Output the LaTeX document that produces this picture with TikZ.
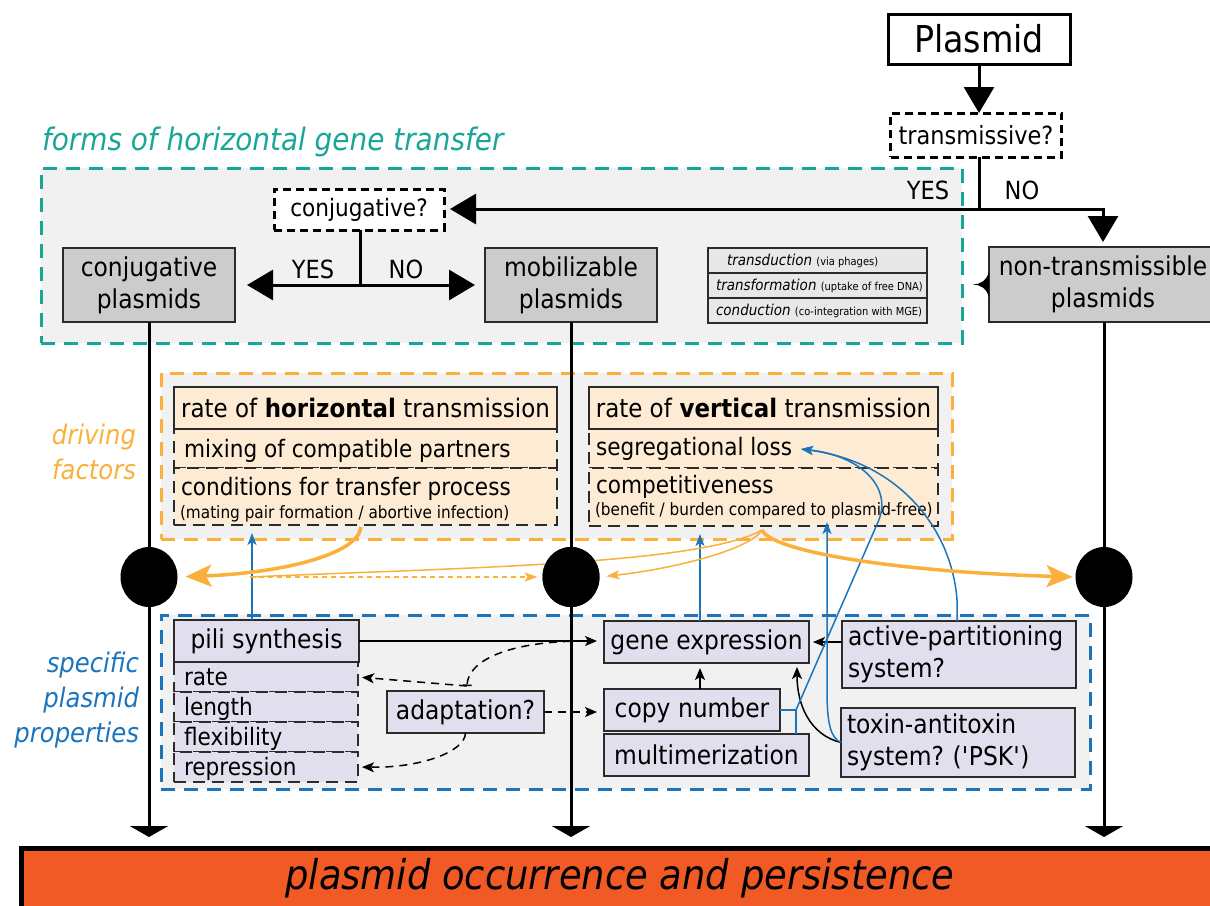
\documentclass[tikz,border=0pt]{standalone}
\usepackage{fontspec}
\setmainfont{DejaVu Sans}[FakeStretch=0.9]
\usetikzlibrary{arrows.meta,shapes.geometric,calc}
\definecolor{tealc}{HTML}{18A697}
\definecolor{orng}{HTML}{FBB03B}
\definecolor{blu}{HTML}{1C75BC}
\definecolor{bgray}{HTML}{F1F1F1}
\definecolor{peach}{HTML}{FDEBD3}
\definecolor{lav}{HTML}{E1DFEE}
\definecolor{boxgray}{HTML}{CCCCCC}
\definecolor{tabgray}{HTML}{E8E8E8}
\definecolor{redor}{HTML}{F15A24}
\definecolor{dk}{HTML}{2B2B2B}
\newcommand{\fsz}[2]{\fontsize{#1}{#2}\selectfont}
\frenchspacing
\tikzset{
  every node/.style={inner sep=0pt, outer sep=0pt},
  box/.style={draw=dk, line width=2pt, align=center},
  graybox/.style={box, fill=boxgray, font=\fsz{26}{32}},
  lavbox/.style={box, fill=lav, font=\fsz{26}{32}},
  cell/.style={draw=dk, line width=1.5pt, dash pattern=on 12pt off 7pt},
  qbox/.style={draw=black, line width=3pt, dash pattern=on 8pt off 5pt, fill=white},
  area/.style={line width=3pt, dash pattern=on 14pt off 9pt, fill=bgray},
  lbl/.style={anchor=base west},
  thickln/.style={line width=3pt},
  bigtip/.style={-{Triangle[width=30pt,length=26pt]}},
  endtip/.style={-{Triangle[width=38pt,length=11pt]}},
  smallarr/.style={line width=1.5pt, -{Stealth[length=12pt,width=10pt,inset=3pt]}},
  dasharr/.style={line width=1.5pt, dash pattern=on 8pt off 6pt},
  bluarr/.style={blu, line width=1.5pt, -{Stealth[length=12pt,width=9pt,inset=3pt]}},
  orthick/.style={orng, line width=3.5pt, -{Stealth[length=26pt,width=22pt,inset=6pt]}},
  orthin/.style={orng, line width=1.5pt},
  orthintip/.style={orthin, -{Stealth[length=13pt,width=9pt,inset=3pt]}},
}
\begin{document}
\begin{tikzpicture}[x=1pt,y=-1pt]
\useasboundingbox (0,0) rectangle (1210,905);

% ---------- background areas ----------
\node[area, draw=tealc, minimum width=921, minimum height=175] (hgtarea) at (501.5,255.5) {};
\node[area, draw=orng, minimum width=791, minimum height=166] (drvarea) at (556.5,456) {};
\node[area, draw=blu, minimum width=929, minimum height=174] (proparea) at (625.5,702) {};

\node[lbl, text=tealc, font=\fsz{31}{36}\itshape] (hgttitle) at (42,150) {forms of horizontal gene transfer};
\node[anchor=east, align=right, text=orng, font=\fsz{27}{35}\itshape] (drvtitle) at (136,452) {driving\\factors};
\node[anchor=east, align=right, text=blu, font=\fsz{27}{35}\itshape] (proptitle) at (139,700) {specific\\plasmid\\properties};

% ---------- top decision nodes ----------
\node[draw=black, line width=3pt, fill=white, minimum width=182, minimum height=50, font=\fsz{37}{42}] (plasmid) at (979,39) {Plasmid};
\node[qbox, minimum width=171, minimum height=44, font=\fsz{25}{30}] (trans) at (976,135) {transmissive?};
\node[qbox, minimum width=170, minimum height=41, font=\fsz{24}{30}] (conjq) at (359,209.5) {conjugative?};

\node[graybox, minimum width=172, minimum height=74] (conjP) at (149,285) {conjugative\\plasmids};
\node[graybox, minimum width=172, minimum height=74] (mobP) at (571,285) {mobilizable\\plasmids};
\node[graybox, minimum width=228, minimum height=75] (nonP) at (1103,284.5) {non-transmissible\\plasmids};

% table of other HGT forms
\node[draw=dk, line width=1.5pt, fill=tabgray, minimum width=219, minimum height=25] (tab1) at (817.5,260.5) {};
\node[draw=dk, line width=1.5pt, fill=tabgray, minimum width=219, minimum height=25] (tab2) at (817.5,285.5) {};
\node[draw=dk, line width=1.5pt, fill=tabgray, minimum width=219, minimum height=25] (tab3) at (817.5,310.5) {};
\node[anchor=west] (tab1t) at (727,260.5) {\fsz{15}{18}\itshape transduction \fsz{11}{13}\upshape(via phages)};
\node[anchor=west] (tab2t) at (716,285.5) {\fsz{15}{18}\itshape transformation \fsz{11}{13}\upshape(uptake of free DNA)};
\node[anchor=west] (tab3t) at (716,310.5) {\fsz{15}{18}\itshape conduction \fsz{11}{13}\upshape(co-integration with MGE)};

% ---------- top connectors ----------
\coordinate (j1) at (979,209);
\coordinate (j1r) at (1103,209);
\coordinate (j2) at (360,285);
\draw[thickln, bigtip] (plasmid.south) -- (plasmid.south |- trans.north);
\draw[thickln] (trans.south -| j1) -- (j1);
\draw[thickln, bigtip, shorten >=6pt] (j1) -- (conjq.east |- j1);
\draw[thickln, bigtip, shorten >=5pt] (j1) -- (j1r) -- (nonP.north);
\draw[thickln] (conjq.south -| j2) -- (j2);
\draw[thickln, bigtip, shorten >=12pt] (j2) -- (conjP.east);
\draw[thickln, bigtip, shorten >=10pt] (j2) -- (mobP.west);
\node[font=\fsz{25}{30}] (yes1) at (928,190) {YES};
\node[font=\fsz{25}{30}] (no1) at (1022,190) {NO};
\node[font=\fsz{25}{30}] (yes2) at (313,269) {YES};
\node[font=\fsz{25}{30}] (no2) at (406,269) {NO};
% brace-like tip on non-transmissible box
\fill[black] ($(nonP.west)+(0,-13)$) .. controls +(-2,9) and +(7,0) .. ($(nonP.west)+(-16,0)$) .. controls +(7,0) and +(-2,-9) .. ($(nonP.west)+(0,13)$) -- cycle;

% ---------- driving factors ----------
\node[cell, fill=peach, minimum width=383, minimum height=39] (mixH) at (365.5,448.5) {};
\node[cell, fill=peach, minimum width=383, minimum height=57] (condH) at (365.5,496.5) {};
\node[box, fill=peach, minimum width=383, minimum height=42, font=\fsz{25.5}{30}] (rateH) at (365.5,408) {rate of \textbf{horizontal} transmission};
\node[lbl, font=\fsz{24}{30}] (mixT) at (184,457) {mixing of compatible partners};
\node[lbl, font=\fsz{24}{30}] (condT) at (181,495) {conditions for transfer process};
\node[lbl, font=\fsz{17}{20}] (condS) at (180,518) {(mating pair formation / abortive infection)};

\node[cell, fill=peach, minimum width=349, minimum height=39] (segV) at (763.5,448.5) {};
\node[cell, fill=peach, minimum width=349, minimum height=58] (compV) at (763.5,497) {};
\node[box, fill=peach, minimum width=349, minimum height=42, font=\fsz{25.5}{30}] (rateV) at (763.5,408) {rate of \textbf{vertical} transmission};
\node[lbl, font=\fsz{24}{30}] (segT) at (596,455) {segregational loss};
\node[lbl, font=\fsz{24}{30}] (compT) at (596,493) {competitiveness};
\node[lbl, font=\fsz{17}{20}] (compS) at (595,515) {(benefit / burden compared to plasmid-free)};

% ---------- specific plasmid properties ----------
\node[cell, fill=lav, minimum width=184, minimum height=30] (rateC) at (266,677) {};
\node[cell, fill=lav, minimum width=184, minimum height=30] (lenC) at (266,707) {};
\node[cell, fill=lav, minimum width=184, minimum height=30] (flexC) at (266,737) {};
\node[cell, fill=lav, minimum width=184, minimum height=30] (repC) at (266,767) {};
\node[lbl, font=\fsz{24}{30}] (rateCT) at (184,685) {rate};
\node[lbl, font=\fsz{24}{30}] (lenCT) at (184,715) {length};
\node[lbl, font=\fsz{24}{30}] (flexCT) at (184,745) {flexibility};
\node[lbl, font=\fsz{24}{30}] (repCT) at (184,775) {repression};
\node[lavbox, minimum width=185, minimum height=42] (pili) at (266.5,641) {pili synthesis};
\node[lavbox, minimum width=157, minimum height=42] (adapt) at (465.5,712) {adaptation?};
\node[lavbox, minimum width=205, minimum height=42] (gene) at (706.5,642) {gene expression};
\node[lavbox, minimum width=176, minimum height=42] (copyn) at (692,710) {copy number};
\node[lavbox, minimum width=205, minimum height=42] (multi) at (706.5,755) {multimerization};
\node[lavbox, align=left, text width=222, inner xsep=6pt, minimum height=67] (activ) at (959,654.5) {active-partitioning\\system?};
\node[lavbox, align=left, text width=222, inner xsep=6pt, minimum height=69] (toxin) at (958,742.5) {toxin-antitoxin\\system? (\textquotesingle PSK\textquotesingle)};

% black connectors inside properties
\draw[smallarr, shorten >=7pt] (pili.east) -- (pili.east -| gene.west);
\draw[dasharr, -{Stealth[length=12pt,width=10pt,inset=3pt]}, shorten >=7pt] (adapt.east) -- (adapt.east -| copyn.west);
\coordinate (ad0) at (585,641);
\coordinate (ad1) at (467,686);
\draw[dasharr, -{Bar[width=9pt]}] (ad0) .. controls (510,641) and (468,660) .. (ad1);
\draw[dasharr, -{Stealth[length=12pt,width=10pt,inset=3pt]}, shorten >=4pt] (ad1) -- (rateC.east);
\draw[dasharr, -{Stealth[length=12pt,width=10pt,inset=3pt]}, shorten >=4pt] (adapt.south) .. controls (465,752) and (420,768) .. (repC.east);
\draw[smallarr, shorten >=5pt] (copyn.north -| 700,0) -- (gene.south -| 700,0);
\draw[smallarr, shorten >=4pt] (activ.west |- gene.east) -- (gene.east);
\coordinate (tt) at (797,667);
\draw[smallarr] (toxin.west) .. controls (810,735) and (797,705) .. (tt);

% ---------- blue influences ----------
\coordinate (bx1) at (252,533);
\coordinate (bx2) at (700,534);
\coordinate (bx3) at (827,522);
\coordinate (jb) at (796,710);
\coordinate (segtip) at (801,449);
\coordinate (apx) at (957,600);
\draw[bluarr] (pili.north -| bx1) -- (bx1);
\draw[bluarr] (gene.north -| bx2) -- (bx2);
\draw[blu, line width=1.5pt] (copyn.east) -- (jb);
\draw[blu, line width=1.5pt] (multi.north -| jb) -- (jb);
\draw[bluarr] (jb) -- (878,522) .. controls (893,488) and (862,456) .. (segtip);
\draw[bluarr] (activ.north -| apx) -- (apx) .. controls (952,530) and (900,462) .. (segtip);
\draw[bluarr] (toxin.west) .. controls (831,738) and (827,725) .. (827,690) -- (bx3);

% ---------- main vertical lines ----------
\coordinate (e1) at (149,837);
\coordinate (e2) at (571,837);
\coordinate (e3) at (1104,837);
\draw[thickln, endtip] (conjP.south) -- (e1);
\draw[thickln, endtip] (mobP.south) -- (e2);
\draw[thickln, endtip] (nonP.south -| e3) -- (e3);

% ---------- orange influences ----------
\coordinate (oh) at (361,527);
\coordinate (ov) at (762,530);
\coordinate (om) at (250,577);
\node[ellipse, fill=black, minimum width=57, minimum height=60] (c1) at (149,577) {};
\node[ellipse, fill=black, minimum width=57, minimum height=60] (c2) at (571,577) {};
\node[ellipse, fill=black, minimum width=57, minimum height=60] (c3) at (1104,577) {};
\draw[orthin] (ov) .. controls (700,565) and (450,568) .. (om);
\draw[orthin, dash pattern=on 5pt off 4pt, -{Stealth[length=13pt,width=9pt,inset=3pt]}, shorten >=5pt] (om) -- (c2.west);
\draw[orthintip, shorten >=7pt] (ov) .. controls (752,548) and (680,568) .. (c2.east);
\draw[orthick, shorten >=8pt] (oh) .. controls (358,555) and (280,573) .. (c1.east);
\draw[orthick, shorten >=3pt] (ov) .. controls (772,552) and (900,572) .. (c3.west);
\fill[black] (c2) ellipse [x radius=28.5, y radius=30];

% ---------- outcome ----------
\node[draw=black, line width=5pt, fill=redor, minimum width=1200, minimum height=70] (outcome) at (621,883) {};
\node[font=\fsz{41}{46}\itshape] (outT) at (620,878) {plasmid occurrence and persistence};
\end{tikzpicture}
\end{document}
